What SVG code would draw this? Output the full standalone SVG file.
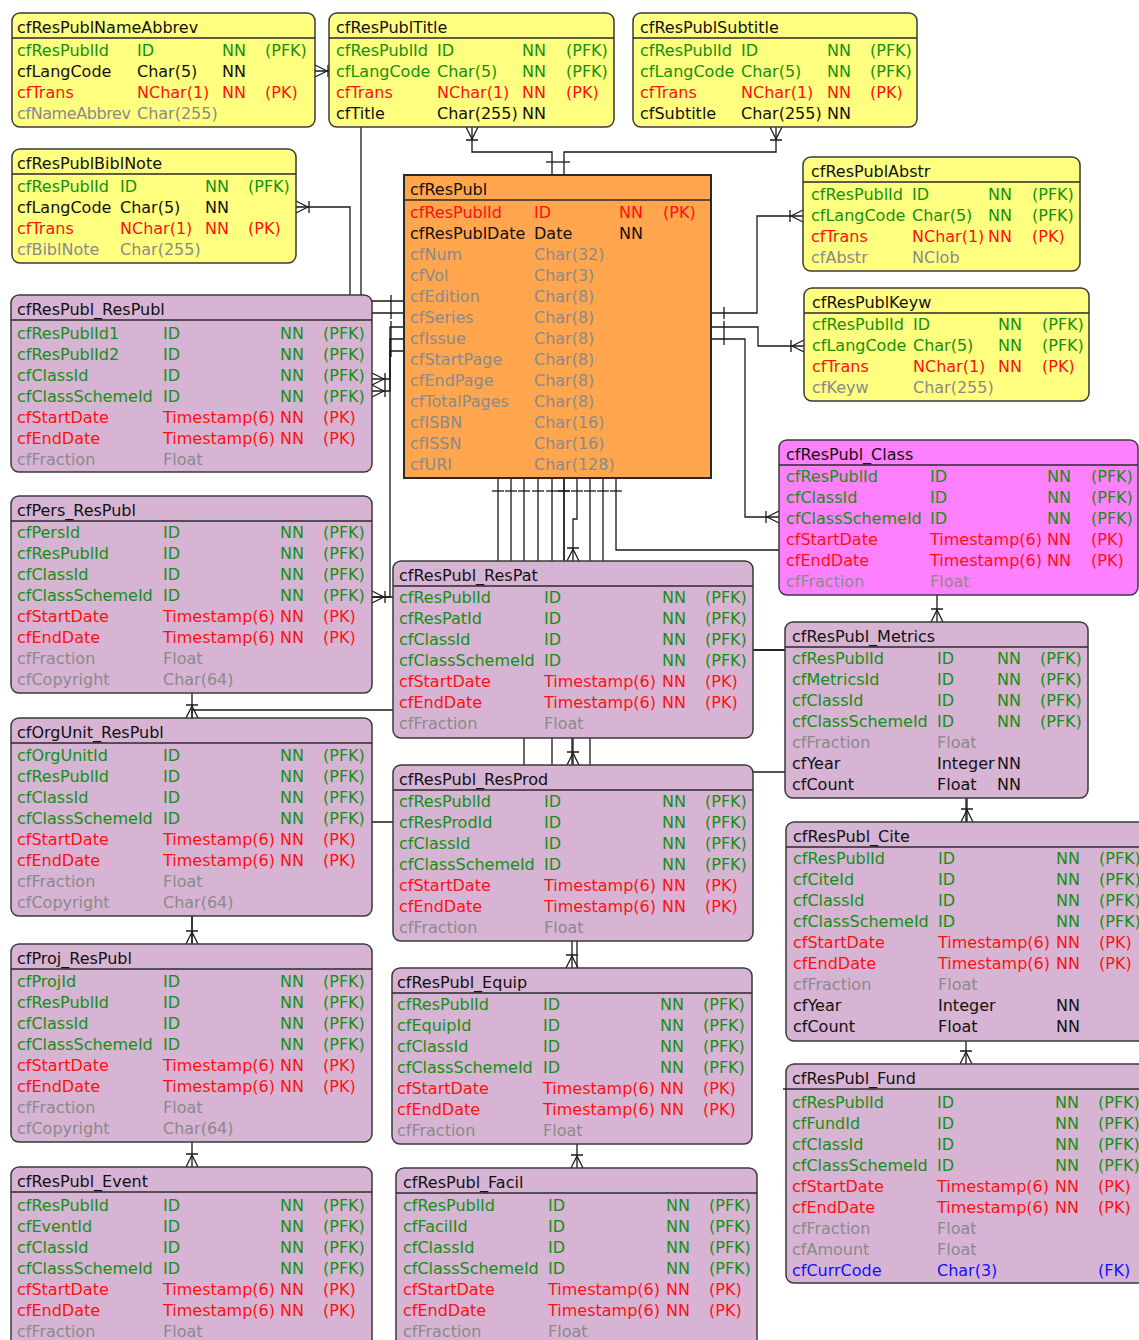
<svg xmlns="http://www.w3.org/2000/svg" width="1139" height="1340" viewBox="0 0 1139 1340">
<style>
text{font-family:"DejaVu Sans","Liberation Sans",sans-serif;font-size:16px}
.k{fill:#111}.g{fill:#12900f}.r{fill:#ff1010}.gr{fill:#8a8a8a}.b{fill:#1010ff}
.yel{fill:#ffff80;stroke:#3a3a3a;stroke-width:1.5}
.lav{fill:#d7b4d4;stroke:#3a3a3a;stroke-width:1.5}
.mag{fill:#ff80ff;stroke:#3a3a3a;stroke-width:1.5}
.org{fill:#ffa64f;stroke:#2a2a2a;stroke-width:2}
.sep{stroke:#2a2a2a;stroke-width:1.5}
.con path{fill:none;stroke:#1a1a1a;stroke-width:1.3}
.fk{marker-start:url(#one);marker-end:url(#crow)}
.tight{letter-spacing:-0.4px}
</style>
<defs>
<marker id="crow" markerUnits="userSpaceOnUse" markerWidth="30" markerHeight="20" viewBox="-20 -10 30 20" refX="0" refY="0" orient="auto" overflow="visible">
<path d="M-12,0 L0,-6 M-12,0 L0,6 M-13,-6 L-13,6" fill="none" stroke="#1a1a1a" stroke-width="1.3"/>
</marker>
<marker id="one" markerUnits="userSpaceOnUse" markerWidth="30" markerHeight="20" viewBox="-10 -10 30 20" refX="0" refY="0" orient="auto" overflow="visible">
<path d="M13,-6 L13,6" fill="none" stroke="#1a1a1a" stroke-width="1.3"/>
</marker>
</defs>
<rect width="1139" height="1340" fill="#fff"/>

<!-- relationship lines, drawn beneath the tables -->
<g id="connectors" class="con">
<path class="fk" d="M404 313 H361 V71 H315"/>
<path class="fk" d="M404 301 H350 V207 H296"/>
<path class="fk" d="M552 175 V152 H472 V127"/>
<path class="fk" d="M564 175 V152 H776 V127"/>
<path class="fk" d="M711 313 H757 V216 H803"/>
<path class="fk" d="M711 327 H758 V346 H804"/>
<path class="fk" d="M711 339 H745 V517 H779"/>
<path class="fk" d="M404 327 H390 V379 H372"/>
<path class="fk" d="M404 339 H390 V391 H372"/>
<path class="fk" d="M404 351 H390 V597 H372"/>
<path class="fk" d="M498 478 V597 H192 V718"/>
<path class="fk" d="M511 478 V650 H967 V822"/>
<path class="fk" d="M524 478 V822 H192 V944"/>
<path class="fk" d="M538 478 V710 H192 V1167"/>
<path class="fk" d="M552 478 V920 H577 V1168"/>
<path class="fk" d="M564 478 V700 H573 V765"/>
<path class="fk" d="M564 478 V700 H572 V968"/>
<path class="fk" d="M577 478 V519 H573 V561"/>
<path style="marker-start:url(#one)" d="M590 478 V772 H785"/>
<path class="fk" d="M603 478 V650 H966 V1064"/>
<path class="fk" d="M616 478 V550 H937 V622"/>
</g>

<g id="cfResPublNameAbbrev">
<rect class="yel" x="12" y="13" width="303" height="114" rx="8"/>
<line class="sep" x1="12" y1="38" x2="315" y2="38"/>
<text class="k" x="17" y="33">cfResPublNameAbbrev</text>
<text class="g" y="56"><tspan x="17">cfResPublId</tspan><tspan x="137">ID</tspan><tspan x="222">NN</tspan><tspan x="265">(PFK)</tspan></text>
<text class="k" y="77"><tspan x="17">cfLangCode</tspan><tspan x="137">Char(5)</tspan><tspan x="222">NN</tspan></text>
<text class="r" y="98"><tspan x="17">cfTrans</tspan><tspan x="137">NChar(1)</tspan><tspan x="222">NN</tspan><tspan x="265">(PK)</tspan></text>
<text class="gr" y="119"><tspan x="17" class="tight">cfNameAbbrev</tspan><tspan x="137">Char(255)</tspan></text>
</g>

<g id="cfResPublTitle">
<rect class="yel" x="329" y="13" width="285" height="114" rx="8"/>
<line class="sep" x1="329" y1="38" x2="614" y2="38"/>
<text class="k" x="336" y="33">cfResPublTitle</text>
<text class="g" y="56"><tspan x="336">cfResPublId</tspan><tspan x="437">ID</tspan><tspan x="522">NN</tspan><tspan x="566">(PFK)</tspan></text>
<text class="g" y="77"><tspan x="336">cfLangCode</tspan><tspan x="437">Char(5)</tspan><tspan x="522">NN</tspan><tspan x="566">(PFK)</tspan></text>
<text class="r" y="98"><tspan x="336">cfTrans</tspan><tspan x="437">NChar(1)</tspan><tspan x="522">NN</tspan><tspan x="566">(PK)</tspan></text>
<text class="k" y="119"><tspan x="336">cfTitle</tspan><tspan x="437">Char(255)</tspan><tspan x="522">NN</tspan></text>
</g>

<g id="cfResPublSubtitle">
<rect class="yel" x="633" y="13" width="284" height="114" rx="8"/>
<line class="sep" x1="633" y1="38" x2="917" y2="38"/>
<text class="k" x="640" y="33">cfResPublSubtitle</text>
<text class="g" y="56"><tspan x="640">cfResPublId</tspan><tspan x="741">ID</tspan><tspan x="827">NN</tspan><tspan x="870">(PFK)</tspan></text>
<text class="g" y="77"><tspan x="640">cfLangCode</tspan><tspan x="741">Char(5)</tspan><tspan x="827">NN</tspan><tspan x="870">(PFK)</tspan></text>
<text class="r" y="98"><tspan x="640">cfTrans</tspan><tspan x="741">NChar(1)</tspan><tspan x="827">NN</tspan><tspan x="870">(PK)</tspan></text>
<text class="k" y="119"><tspan x="640">cfSubtitle</tspan><tspan x="741">Char(255)</tspan><tspan x="827">NN</tspan></text>
</g>

<g id="cfResPublBiblNote">
<rect class="yel" x="12" y="149" width="284" height="114" rx="8"/>
<line class="sep" x1="12" y1="174" x2="296" y2="174"/>
<text class="k" x="17" y="169">cfResPublBiblNote</text>
<text class="g" y="192"><tspan x="17">cfResPublId</tspan><tspan x="120">ID</tspan><tspan x="205">NN</tspan><tspan x="248">(PFK)</tspan></text>
<text class="k" y="213"><tspan x="17">cfLangCode</tspan><tspan x="120">Char(5)</tspan><tspan x="205">NN</tspan></text>
<text class="r" y="234"><tspan x="17">cfTrans</tspan><tspan x="120">NChar(1)</tspan><tspan x="205">NN</tspan><tspan x="248">(PK)</tspan></text>
<text class="gr" y="255"><tspan x="17">cfBiblNote</tspan><tspan x="120">Char(255)</tspan></text>
</g>

<g id="cfResPublAbstr">
<rect class="yel" x="803" y="157" width="277" height="114" rx="8"/>
<line class="sep" x1="803" y1="182" x2="1080" y2="182"/>
<text class="k" x="811" y="177">cfResPublAbstr</text>
<text class="g" y="200"><tspan x="811">cfResPublId</tspan><tspan x="912">ID</tspan><tspan x="988">NN</tspan><tspan x="1032">(PFK)</tspan></text>
<text class="g" y="221"><tspan x="811">cfLangCode</tspan><tspan x="912">Char(5)</tspan><tspan x="988">NN</tspan><tspan x="1032">(PFK)</tspan></text>
<text class="r" y="242"><tspan x="811">cfTrans</tspan><tspan x="912">NChar(1)</tspan><tspan x="988">NN</tspan><tspan x="1032">(PK)</tspan></text>
<text class="gr" y="263"><tspan x="811">cfAbstr</tspan><tspan x="912">NClob</tspan></text>
</g>

<g id="cfResPublKeyw">
<rect class="yel" x="804" y="288" width="285" height="113" rx="8"/>
<line class="sep" x1="804" y1="313" x2="1089" y2="313"/>
<text class="k" x="812" y="308">cfResPublKeyw</text>
<text class="g" y="330"><tspan x="812">cfResPublId</tspan><tspan x="913">ID</tspan><tspan x="998">NN</tspan><tspan x="1042">(PFK)</tspan></text>
<text class="g" y="351"><tspan x="812">cfLangCode</tspan><tspan x="913">Char(5)</tspan><tspan x="998">NN</tspan><tspan x="1042">(PFK)</tspan></text>
<text class="r" y="372"><tspan x="812">cfTrans</tspan><tspan x="913">NChar(1)</tspan><tspan x="998">NN</tspan><tspan x="1042">(PK)</tspan></text>
<text class="gr" y="393"><tspan x="812">cfKeyw</tspan><tspan x="913">Char(255)</tspan></text>
</g>

<g id="cfResPubl">
<rect class="org" x="404" y="175" width="307" height="303"/>
<line class="sep" x1="404" y1="200" x2="711" y2="200"/>
<text class="k" x="410" y="195">cfResPubl</text>
<text class="r" y="218"><tspan x="410">cfResPublId</tspan><tspan x="534">ID</tspan><tspan x="619">NN</tspan><tspan x="663">(PK)</tspan></text>
<text class="k" y="239"><tspan x="410">cfResPublDate</tspan><tspan x="534">Date</tspan><tspan x="619">NN</tspan></text>
<text class="gr" y="260"><tspan x="410">cfNum</tspan><tspan x="534">Char(32)</tspan></text>
<text class="gr" y="281"><tspan x="410">cfVol</tspan><tspan x="534">Char(3)</tspan></text>
<text class="gr" y="302"><tspan x="410">cfEdition</tspan><tspan x="534">Char(8)</tspan></text>
<text class="gr" y="323"><tspan x="410">cfSeries</tspan><tspan x="534">Char(8)</tspan></text>
<text class="gr" y="344"><tspan x="410">cfIssue</tspan><tspan x="534">Char(8)</tspan></text>
<text class="gr" y="365"><tspan x="410">cfStartPage</tspan><tspan x="534">Char(8)</tspan></text>
<text class="gr" y="386"><tspan x="410">cfEndPage</tspan><tspan x="534">Char(8)</tspan></text>
<text class="gr" y="407"><tspan x="410">cfTotalPages</tspan><tspan x="534">Char(8)</tspan></text>
<text class="gr" y="428"><tspan x="410">cfISBN</tspan><tspan x="534">Char(16)</tspan></text>
<text class="gr" y="449"><tspan x="410">cfISSN</tspan><tspan x="534">Char(16)</tspan></text>
<text class="gr" y="470"><tspan x="410">cfURI</tspan><tspan x="534">Char(128)</tspan></text>
</g>

<g id="cfResPubl_ResPubl">
<rect class="lav" x="11" y="295" width="361" height="177" rx="8"/>
<line class="sep" x1="11" y1="320" x2="372" y2="320"/>
<text class="k" x="17" y="315">cfResPubl_ResPubl</text>
<text class="g" y="339"><tspan x="17">cfResPublId1</tspan><tspan x="163">ID</tspan><tspan x="280">NN</tspan><tspan x="323">(PFK)</tspan></text>
<text class="g" y="360"><tspan x="17">cfResPublId2</tspan><tspan x="163">ID</tspan><tspan x="280">NN</tspan><tspan x="323">(PFK)</tspan></text>
<text class="g" y="381"><tspan x="17">cfClassId</tspan><tspan x="163">ID</tspan><tspan x="280">NN</tspan><tspan x="323">(PFK)</tspan></text>
<text class="g" y="402"><tspan x="17">cfClassSchemeId</tspan><tspan x="163">ID</tspan><tspan x="280">NN</tspan><tspan x="323">(PFK)</tspan></text>
<text class="r" y="423"><tspan x="17">cfStartDate</tspan><tspan x="163">Timestamp(6)</tspan><tspan x="280">NN</tspan><tspan x="323">(PK)</tspan></text>
<text class="r" y="444"><tspan x="17">cfEndDate</tspan><tspan x="163">Timestamp(6)</tspan><tspan x="280">NN</tspan><tspan x="323">(PK)</tspan></text>
<text class="gr" y="465"><tspan x="17">cfFraction</tspan><tspan x="163">Float</tspan></text>
</g>

<g id="cfPers_ResPubl">
<rect class="lav" x="11" y="496" width="361" height="197" rx="8"/>
<line class="sep" x1="11" y1="521" x2="372" y2="521"/>
<text class="k" x="17" y="516">cfPers_ResPubl</text>
<text class="g" y="538"><tspan x="17">cfPersId</tspan><tspan x="163">ID</tspan><tspan x="280">NN</tspan><tspan x="323">(PFK)</tspan></text>
<text class="g" y="559"><tspan x="17">cfResPublId</tspan><tspan x="163">ID</tspan><tspan x="280">NN</tspan><tspan x="323">(PFK)</tspan></text>
<text class="g" y="580"><tspan x="17">cfClassId</tspan><tspan x="163">ID</tspan><tspan x="280">NN</tspan><tspan x="323">(PFK)</tspan></text>
<text class="g" y="601"><tspan x="17">cfClassSchemeId</tspan><tspan x="163">ID</tspan><tspan x="280">NN</tspan><tspan x="323">(PFK)</tspan></text>
<text class="r" y="622"><tspan x="17">cfStartDate</tspan><tspan x="163">Timestamp(6)</tspan><tspan x="280">NN</tspan><tspan x="323">(PK)</tspan></text>
<text class="r" y="643"><tspan x="17">cfEndDate</tspan><tspan x="163">Timestamp(6)</tspan><tspan x="280">NN</tspan><tspan x="323">(PK)</tspan></text>
<text class="gr" y="664"><tspan x="17">cfFraction</tspan><tspan x="163">Float</tspan></text>
<text class="gr" y="685"><tspan x="17">cfCopyright</tspan><tspan x="163">Char(64)</tspan></text>
</g>

<g id="cfOrgUnit_ResPubl">
<rect class="lav" x="11" y="718" width="361" height="198" rx="8"/>
<line class="sep" x1="11" y1="743" x2="372" y2="743"/>
<text class="k" x="17" y="738">cfOrgUnit_ResPubl</text>
<text class="g" y="761"><tspan x="17">cfOrgUnitId</tspan><tspan x="163">ID</tspan><tspan x="280">NN</tspan><tspan x="323">(PFK)</tspan></text>
<text class="g" y="782"><tspan x="17">cfResPublId</tspan><tspan x="163">ID</tspan><tspan x="280">NN</tspan><tspan x="323">(PFK)</tspan></text>
<text class="g" y="803"><tspan x="17">cfClassId</tspan><tspan x="163">ID</tspan><tspan x="280">NN</tspan><tspan x="323">(PFK)</tspan></text>
<text class="g" y="824"><tspan x="17">cfClassSchemeId</tspan><tspan x="163">ID</tspan><tspan x="280">NN</tspan><tspan x="323">(PFK)</tspan></text>
<text class="r" y="845"><tspan x="17">cfStartDate</tspan><tspan x="163">Timestamp(6)</tspan><tspan x="280">NN</tspan><tspan x="323">(PK)</tspan></text>
<text class="r" y="866"><tspan x="17">cfEndDate</tspan><tspan x="163">Timestamp(6)</tspan><tspan x="280">NN</tspan><tspan x="323">(PK)</tspan></text>
<text class="gr" y="887"><tspan x="17">cfFraction</tspan><tspan x="163">Float</tspan></text>
<text class="gr" y="908"><tspan x="17">cfCopyright</tspan><tspan x="163">Char(64)</tspan></text>
</g>

<g id="cfProj_ResPubl">
<rect class="lav" x="11" y="944" width="361" height="198" rx="8"/>
<line class="sep" x1="11" y1="969" x2="372" y2="969"/>
<text class="k" x="17" y="964">cfProj_ResPubl</text>
<text class="g" y="987"><tspan x="17">cfProjId</tspan><tspan x="163">ID</tspan><tspan x="280">NN</tspan><tspan x="323">(PFK)</tspan></text>
<text class="g" y="1008"><tspan x="17">cfResPublId</tspan><tspan x="163">ID</tspan><tspan x="280">NN</tspan><tspan x="323">(PFK)</tspan></text>
<text class="g" y="1029"><tspan x="17">cfClassId</tspan><tspan x="163">ID</tspan><tspan x="280">NN</tspan><tspan x="323">(PFK)</tspan></text>
<text class="g" y="1050"><tspan x="17">cfClassSchemeId</tspan><tspan x="163">ID</tspan><tspan x="280">NN</tspan><tspan x="323">(PFK)</tspan></text>
<text class="r" y="1071"><tspan x="17">cfStartDate</tspan><tspan x="163">Timestamp(6)</tspan><tspan x="280">NN</tspan><tspan x="323">(PK)</tspan></text>
<text class="r" y="1092"><tspan x="17">cfEndDate</tspan><tspan x="163">Timestamp(6)</tspan><tspan x="280">NN</tspan><tspan x="323">(PK)</tspan></text>
<text class="gr" y="1113"><tspan x="17">cfFraction</tspan><tspan x="163">Float</tspan></text>
<text class="gr" y="1134"><tspan x="17">cfCopyright</tspan><tspan x="163">Char(64)</tspan></text>
</g>

<g id="cfResPubl_Event">
<rect class="lav" x="11" y="1167" width="361" height="200" rx="8"/>
<line class="sep" x1="11" y1="1192" x2="372" y2="1192"/>
<text class="k" x="17" y="1187">cfResPubl_Event</text>
<text class="g" y="1211"><tspan x="17">cfResPublId</tspan><tspan x="163">ID</tspan><tspan x="280">NN</tspan><tspan x="323">(PFK)</tspan></text>
<text class="g" y="1232"><tspan x="17">cfEventId</tspan><tspan x="163">ID</tspan><tspan x="280">NN</tspan><tspan x="323">(PFK)</tspan></text>
<text class="g" y="1253"><tspan x="17">cfClassId</tspan><tspan x="163">ID</tspan><tspan x="280">NN</tspan><tspan x="323">(PFK)</tspan></text>
<text class="g" y="1274"><tspan x="17">cfClassSchemeId</tspan><tspan x="163">ID</tspan><tspan x="280">NN</tspan><tspan x="323">(PFK)</tspan></text>
<text class="r" y="1295"><tspan x="17">cfStartDate</tspan><tspan x="163">Timestamp(6)</tspan><tspan x="280">NN</tspan><tspan x="323">(PK)</tspan></text>
<text class="r" y="1316"><tspan x="17">cfEndDate</tspan><tspan x="163">Timestamp(6)</tspan><tspan x="280">NN</tspan><tspan x="323">(PK)</tspan></text>
<text class="gr" y="1337"><tspan x="17">cfFraction</tspan><tspan x="163">Float</tspan></text>
</g>

<g id="cfResPubl_ResPat">
<rect class="lav" x="393" y="561" width="360" height="177" rx="8"/>
<line class="sep" x1="393" y1="586" x2="753" y2="586"/>
<text class="k" x="399" y="581">cfResPubl_ResPat</text>
<text class="g" y="603"><tspan x="399">cfResPublId</tspan><tspan x="544">ID</tspan><tspan x="662">NN</tspan><tspan x="705">(PFK)</tspan></text>
<text class="g" y="624"><tspan x="399">cfResPatId</tspan><tspan x="544">ID</tspan><tspan x="662">NN</tspan><tspan x="705">(PFK)</tspan></text>
<text class="g" y="645"><tspan x="399">cfClassId</tspan><tspan x="544">ID</tspan><tspan x="662">NN</tspan><tspan x="705">(PFK)</tspan></text>
<text class="g" y="666"><tspan x="399">cfClassSchemeId</tspan><tspan x="544">ID</tspan><tspan x="662">NN</tspan><tspan x="705">(PFK)</tspan></text>
<text class="r" y="687"><tspan x="399">cfStartDate</tspan><tspan x="544">Timestamp(6)</tspan><tspan x="662">NN</tspan><tspan x="705">(PK)</tspan></text>
<text class="r" y="708"><tspan x="399">cfEndDate</tspan><tspan x="544">Timestamp(6)</tspan><tspan x="662">NN</tspan><tspan x="705">(PK)</tspan></text>
<text class="gr" y="729"><tspan x="399">cfFraction</tspan><tspan x="544">Float</tspan></text>
</g>

<g id="cfResPubl_ResProd">
<rect class="lav" x="393" y="765" width="360" height="176" rx="8"/>
<line class="sep" x1="393" y1="790" x2="753" y2="790"/>
<text class="k" x="399" y="785">cfResPubl_ResProd</text>
<text class="g" y="807"><tspan x="399">cfResPublId</tspan><tspan x="544">ID</tspan><tspan x="662">NN</tspan><tspan x="705">(PFK)</tspan></text>
<text class="g" y="828"><tspan x="399">cfResProdId</tspan><tspan x="544">ID</tspan><tspan x="662">NN</tspan><tspan x="705">(PFK)</tspan></text>
<text class="g" y="849"><tspan x="399">cfClassId</tspan><tspan x="544">ID</tspan><tspan x="662">NN</tspan><tspan x="705">(PFK)</tspan></text>
<text class="g" y="870"><tspan x="399">cfClassSchemeId</tspan><tspan x="544">ID</tspan><tspan x="662">NN</tspan><tspan x="705">(PFK)</tspan></text>
<text class="r" y="891"><tspan x="399">cfStartDate</tspan><tspan x="544">Timestamp(6)</tspan><tspan x="662">NN</tspan><tspan x="705">(PK)</tspan></text>
<text class="r" y="912"><tspan x="399">cfEndDate</tspan><tspan x="544">Timestamp(6)</tspan><tspan x="662">NN</tspan><tspan x="705">(PK)</tspan></text>
<text class="gr" y="933"><tspan x="399">cfFraction</tspan><tspan x="544">Float</tspan></text>
</g>

<g id="cfResPubl_Equip">
<rect class="lav" x="392" y="968" width="360" height="176" rx="8"/>
<line class="sep" x1="392" y1="993" x2="752" y2="993"/>
<text class="k" x="397" y="988">cfResPubl_Equip</text>
<text class="g" y="1010"><tspan x="397">cfResPublId</tspan><tspan x="543">ID</tspan><tspan x="660">NN</tspan><tspan x="703">(PFK)</tspan></text>
<text class="g" y="1031"><tspan x="397">cfEquipId</tspan><tspan x="543">ID</tspan><tspan x="660">NN</tspan><tspan x="703">(PFK)</tspan></text>
<text class="g" y="1052"><tspan x="397">cfClassId</tspan><tspan x="543">ID</tspan><tspan x="660">NN</tspan><tspan x="703">(PFK)</tspan></text>
<text class="g" y="1073"><tspan x="397">cfClassSchemeId</tspan><tspan x="543">ID</tspan><tspan x="660">NN</tspan><tspan x="703">(PFK)</tspan></text>
<text class="r" y="1094"><tspan x="397">cfStartDate</tspan><tspan x="543">Timestamp(6)</tspan><tspan x="660">NN</tspan><tspan x="703">(PK)</tspan></text>
<text class="r" y="1115"><tspan x="397">cfEndDate</tspan><tspan x="543">Timestamp(6)</tspan><tspan x="660">NN</tspan><tspan x="703">(PK)</tspan></text>
<text class="gr" y="1136"><tspan x="397">cfFraction</tspan><tspan x="543">Float</tspan></text>
</g>

<g id="cfResPubl_Facil">
<rect class="lav" x="396" y="1168" width="361" height="200" rx="8"/>
<line class="sep" x1="396" y1="1193" x2="757" y2="1193"/>
<text class="k" x="403" y="1188">cfResPubl_Facil</text>
<text class="g" y="1211"><tspan x="403">cfResPublId</tspan><tspan x="548">ID</tspan><tspan x="666">NN</tspan><tspan x="709">(PFK)</tspan></text>
<text class="g" y="1232"><tspan x="403">cfFacilId</tspan><tspan x="548">ID</tspan><tspan x="666">NN</tspan><tspan x="709">(PFK)</tspan></text>
<text class="g" y="1253"><tspan x="403">cfClassId</tspan><tspan x="548">ID</tspan><tspan x="666">NN</tspan><tspan x="709">(PFK)</tspan></text>
<text class="g" y="1274"><tspan x="403">cfClassSchemeId</tspan><tspan x="548">ID</tspan><tspan x="666">NN</tspan><tspan x="709">(PFK)</tspan></text>
<text class="r" y="1295"><tspan x="403">cfStartDate</tspan><tspan x="548">Timestamp(6)</tspan><tspan x="666">NN</tspan><tspan x="709">(PK)</tspan></text>
<text class="r" y="1316"><tspan x="403">cfEndDate</tspan><tspan x="548">Timestamp(6)</tspan><tspan x="666">NN</tspan><tspan x="709">(PK)</tspan></text>
<text class="gr" y="1337"><tspan x="403">cfFraction</tspan><tspan x="548">Float</tspan></text>
</g>

<g id="cfResPubl_Class">
<rect class="mag" x="779" y="440" width="359" height="155" rx="8"/>
<line class="sep" x1="779" y1="465" x2="1138" y2="465"/>
<text class="k" x="786" y="460">cfResPubl_Class</text>
<text class="g" y="482"><tspan x="786">cfResPublId</tspan><tspan x="930">ID</tspan><tspan x="1047">NN</tspan><tspan x="1091">(PFK)</tspan></text>
<text class="g" y="503"><tspan x="786">cfClassId</tspan><tspan x="930">ID</tspan><tspan x="1047">NN</tspan><tspan x="1091">(PFK)</tspan></text>
<text class="g" y="524"><tspan x="786">cfClassSchemeId</tspan><tspan x="930">ID</tspan><tspan x="1047">NN</tspan><tspan x="1091">(PFK)</tspan></text>
<text class="r" y="545"><tspan x="786">cfStartDate</tspan><tspan x="930">Timestamp(6)</tspan><tspan x="1047">NN</tspan><tspan x="1091">(PK)</tspan></text>
<text class="r" y="566"><tspan x="786">cfEndDate</tspan><tspan x="930">Timestamp(6)</tspan><tspan x="1047">NN</tspan><tspan x="1091">(PK)</tspan></text>
<text class="gr" y="587"><tspan x="786">cfFraction</tspan><tspan x="930">Float</tspan></text>
</g>

<g id="cfResPubl_Metrics">
<rect class="lav" x="785" y="622" width="303" height="176" rx="8"/>
<line class="sep" x1="785" y1="647" x2="1088" y2="647"/>
<text class="k" x="792" y="642">cfResPubl_Metrics</text>
<text class="g" y="664"><tspan x="792">cfResPublId</tspan><tspan x="937">ID</tspan><tspan x="997">NN</tspan><tspan x="1040">(PFK)</tspan></text>
<text class="g" y="685"><tspan x="792">cfMetricsId</tspan><tspan x="937">ID</tspan><tspan x="997">NN</tspan><tspan x="1040">(PFK)</tspan></text>
<text class="g" y="706"><tspan x="792">cfClassId</tspan><tspan x="937">ID</tspan><tspan x="997">NN</tspan><tspan x="1040">(PFK)</tspan></text>
<text class="g" y="727"><tspan x="792">cfClassSchemeId</tspan><tspan x="937">ID</tspan><tspan x="997">NN</tspan><tspan x="1040">(PFK)</tspan></text>
<text class="gr" y="748"><tspan x="792">cfFraction</tspan><tspan x="937">Float</tspan></text>
<text class="k" y="769"><tspan x="792">cfYear</tspan><tspan x="937">Integer</tspan><tspan x="997">NN</tspan></text>
<text class="k" y="790"><tspan x="792">cfCount</tspan><tspan x="937">Float</tspan><tspan x="997">NN</tspan></text>
</g>

<g id="cfResPubl_Cite">
<rect class="lav" x="786" y="822" width="370" height="219" rx="8"/>
<line class="sep" x1="786" y1="847" x2="1156" y2="847"/>
<text class="k" x="793" y="842">cfResPubl_Cite</text>
<text class="g" y="864"><tspan x="793">cfResPublId</tspan><tspan x="938">ID</tspan><tspan x="1056">NN</tspan><tspan x="1099">(PFK)</tspan></text>
<text class="g" y="885"><tspan x="793">cfCiteId</tspan><tspan x="938">ID</tspan><tspan x="1056">NN</tspan><tspan x="1099">(PFK)</tspan></text>
<text class="g" y="906"><tspan x="793">cfClassId</tspan><tspan x="938">ID</tspan><tspan x="1056">NN</tspan><tspan x="1099">(PFK)</tspan></text>
<text class="g" y="927"><tspan x="793">cfClassSchemeId</tspan><tspan x="938">ID</tspan><tspan x="1056">NN</tspan><tspan x="1099">(PFK)</tspan></text>
<text class="r" y="948"><tspan x="793">cfStartDate</tspan><tspan x="938">Timestamp(6)</tspan><tspan x="1056">NN</tspan><tspan x="1099">(PK)</tspan></text>
<text class="r" y="969"><tspan x="793">cfEndDate</tspan><tspan x="938">Timestamp(6)</tspan><tspan x="1056">NN</tspan><tspan x="1099">(PK)</tspan></text>
<text class="gr" y="990"><tspan x="793">cfFraction</tspan><tspan x="938">Float</tspan></text>
<text class="k" y="1011"><tspan x="793">cfYear</tspan><tspan x="938">Integer</tspan><tspan x="1056">NN</tspan></text>
<text class="k" y="1032"><tspan x="793">cfCount</tspan><tspan x="938">Float</tspan><tspan x="1056">NN</tspan></text>
</g>

<g id="cfResPubl_Fund">
<rect class="lav" x="786" y="1064" width="370" height="219" rx="8"/>
<line class="sep" x1="783" y1="1089" x2="1156" y2="1089"/>
<text class="k" x="792" y="1084">cfResPubl_Fund</text>
<text class="g" y="1108"><tspan x="792">cfResPublId</tspan><tspan x="937">ID</tspan><tspan x="1055">NN</tspan><tspan x="1098">(PFK)</tspan></text>
<text class="g" y="1129"><tspan x="792">cfFundId</tspan><tspan x="937">ID</tspan><tspan x="1055">NN</tspan><tspan x="1098">(PFK)</tspan></text>
<text class="g" y="1150"><tspan x="792">cfClassId</tspan><tspan x="937">ID</tspan><tspan x="1055">NN</tspan><tspan x="1098">(PFK)</tspan></text>
<text class="g" y="1171"><tspan x="792">cfClassSchemeId</tspan><tspan x="937">ID</tspan><tspan x="1055">NN</tspan><tspan x="1098">(PFK)</tspan></text>
<text class="r" y="1192"><tspan x="792">cfStartDate</tspan><tspan x="937">Timestamp(6)</tspan><tspan x="1055">NN</tspan><tspan x="1098">(PK)</tspan></text>
<text class="r" y="1213"><tspan x="792">cfEndDate</tspan><tspan x="937">Timestamp(6)</tspan><tspan x="1055">NN</tspan><tspan x="1098">(PK)</tspan></text>
<text class="gr" y="1234"><tspan x="792">cfFraction</tspan><tspan x="937">Float</tspan></text>
<text class="gr" y="1255"><tspan x="792">cfAmount</tspan><tspan x="937">Float</tspan></text>
<text class="b" y="1276"><tspan x="792">cfCurrCode</tspan><tspan x="937">Char(3)</tspan><tspan x="1098">(FK)</tspan></text>
</g>
</svg>
